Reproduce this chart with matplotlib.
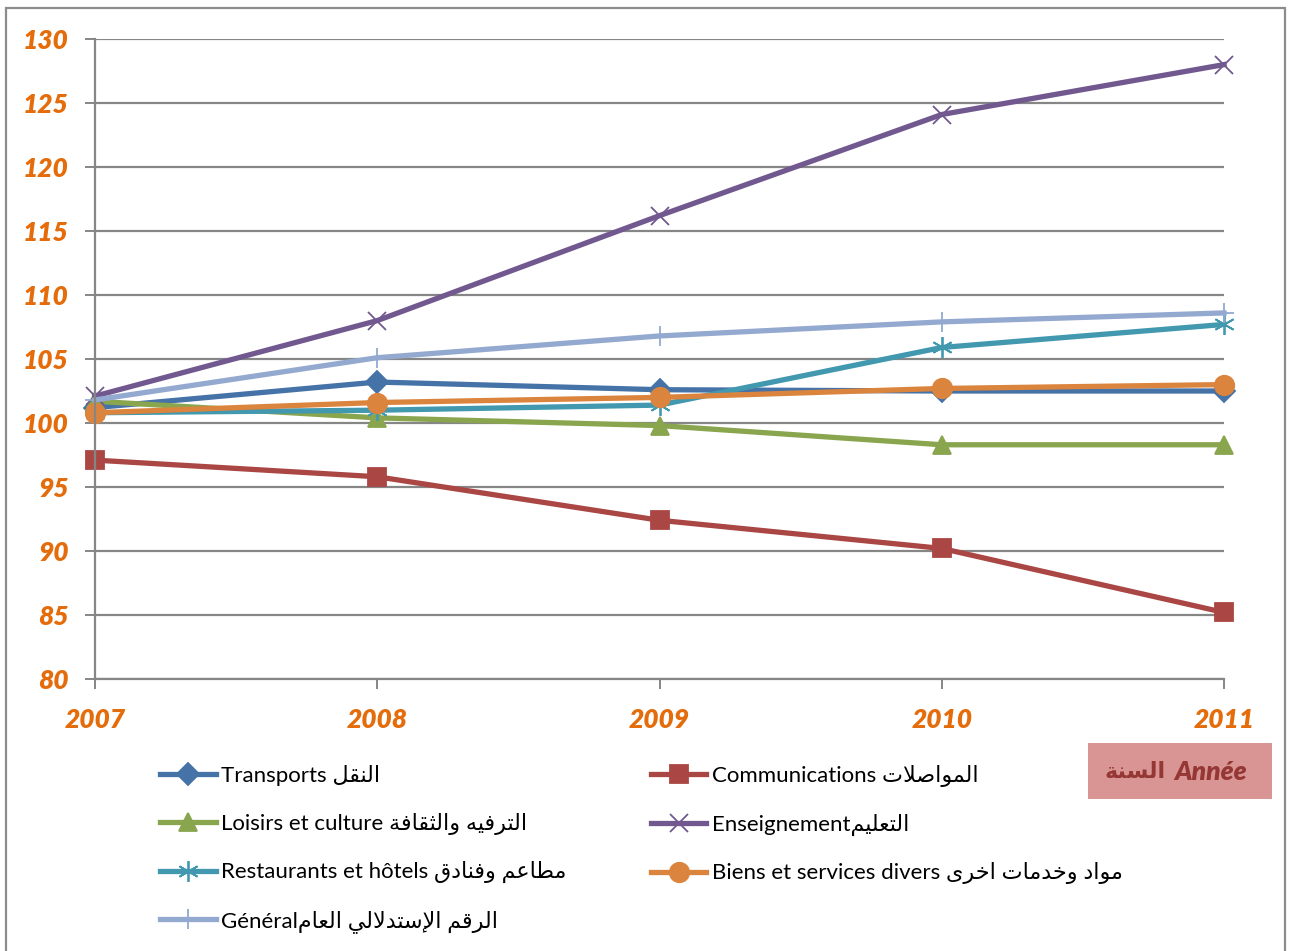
import numpy as np
import matplotlib
matplotlib.use("Agg")
from matplotlib import pyplot as plt
from matplotlib.patches import Rectangle

plt.rcParams['font.family'] = ['Lato', 'DejaVu Sans']

# Data
years = [2007, 2008, 2009, 2010, 2011]
transports = [101.2, 103.2, 102.6, 102.5, 102.5]
communications = [97.1, 95.8, 92.4, 90.2, 85.2]
loisirs = [101.7, 100.4, 99.8, 98.3, 98.3]
enseignement = [102.1, 108.0, 116.2, 124.1, 128.0]
restaurants = [100.8, 101.0, 101.4, 105.9, 107.7]
biens = [100.8, 101.6, 102.0, 102.7, 103.0]
general = [101.8, 105.1, 106.8, 107.9, 108.6]
y_ticks = [80, 85, 90, 95, 100, 105, 110, 115, 120, 125, 130]

# small arabic shaper: matplotlib draws left to right without joining
# forms: isolated, final, initial, medial
FORMS = {
    'ا': (0xFE8D, 0xFE8E, None, None),
    'إ': (0xFE87, 0xFE88, None, None),
    'ل': (0xFEDD, 0xFEDE, 0xFEDF, 0xFEE0),
    'ن': (0xFEE5, 0xFEE6, 0xFEE7, 0xFEE8),
    'ق': (0xFED5, 0xFED6, 0xFED7, 0xFED8),
    'م': (0xFEE1, 0xFEE2, 0xFEE3, 0xFEE4),
    'و': (0xFEED, 0xFEEE, None, None),
    'ص': (0xFEB9, 0xFEBA, 0xFEBB, 0xFEBC),
    'ت': (0xFE95, 0xFE96, 0xFE97, 0xFE98),
    'ر': (0xFEAD, 0xFEAE, None, None),
    'ف': (0xFED1, 0xFED2, 0xFED3, 0xFED4),
    'ي': (0xFEF1, 0xFEF2, 0xFEF3, 0xFEF4),
    'ه': (0xFEE9, 0xFEEA, 0xFEEB, 0xFEEC),
    'ث': (0xFE99, 0xFE9A, 0xFE9B, 0xFE9C),
    'ة': (0xFE93, 0xFE94, None, None),
    'ع': (0xFEC9, 0xFECA, 0xFECB, 0xFECC),
    'ط': (0xFEC1, 0xFEC2, 0xFEC3, 0xFEC4),
    'د': (0xFEA9, 0xFEAA, None, None),
    'خ': (0xFEA5, 0xFEA6, 0xFEA7, 0xFEA8),
    'ى': (0xFEEF, 0xFEF0, None, None),
    'س': (0xFEB1, 0xFEB2, 0xFEB3, 0xFEB4),
}
LAM_ALEF = {'ا': (0xFEFB, 0xFEFC), 'إ': (0xFEF9, 0xFEFA)}


def ar(s):
    out = []
    i = 0
    while i < len(s):
        c = s[i]
        if c not in FORMS:
            out.append(c)
            i += 1
            continue
        prev = s[i-1] if i > 0 else ''
        nxt = s[i+1] if i + 1 < len(s) else ''
        join_prev = prev in FORMS and FORMS[prev][2] is not None
        if c == 'ل' and nxt in LAM_ALEF:
            out.append(chr(LAM_ALEF[nxt][1 if join_prev else 0]))
            i += 2
            continue
        f = FORMS[c]
        join_next = f[2] is not None and nxt in FORMS
        if join_prev and join_next:
            out.append(chr(f[3]))
        elif join_prev:
            out.append(chr(f[1]))
        elif join_next:
            out.append(chr(f[2]))
        else:
            out.append(chr(f[0]))
        i += 1
    return ''.join(out)[::-1]


fig = plt.figure(figsize=(12.9, 9.51), dpi=100)
ax = fig.add_axes([95/1290, 272/951, 1129/1290, 640/951])

orange = '#E46C0A'
grey = '#868686'

series = [
    (transports, 'Transports ' + ar('النقل'), '#4572A7', 'D', 11),
    (communications, 'Communications ' + ar('المواصلات'), '#AA4643', 's', 13),
    (loisirs, 'Loisirs et culture ' + ar('الترفيه والثقافة'), '#89A54E', '^', 13),
    (enseignement, 'Enseignement' + ar('التعليم'), '#71588F', 'x', 13),
    (restaurants, 'Restaurants et hôtels ' + ar('مطاعم وفنادق'), '#4198AF', (6, 2, 0), 15),
    (biens, 'Biens et services divers ' + ar('مواد وخدمات اخرى'), '#DB843D', 'o', 14),
    (general, 'Général' + ar('الرقم الإستدلالي العام'), '#93A9CF', '+', 15),
]

handles = []
for vals, lab, col, mk, ms in series:
    h, = ax.plot(years, vals, color=col, lw=3.8, marker=mk, ms=ms,
                 markeredgecolor=col, markerfacecolor=col, markeredgewidth=1.3,
                 label=lab, clip_on=False)
    handles.append(h)

ax.set_xlim(2007, 2011)
ax.set_ylim(80, 130)
ax.set_xticks(years)
ax.set_yticks(y_ticks)
ax.grid(axis='y', color=grey, lw=1.6)
ax.set_axisbelow(True)
for s in ['top', 'right']:
    ax.spines[s].set_visible(False)
for s in ['left', 'bottom']:
    ax.spines[s].set_color(grey)
    ax.spines[s].set_linewidth(1.6)
ax.tick_params(axis='both', direction='out', length=7, width=1.4, color=grey,
               labelcolor=orange)
ax.tick_params(axis='x', pad=14)
ax.tick_params(axis='y', pad=12)
for t in ax.get_xticklabels() + ax.get_yticklabels():
    t.set_fontsize(19)
    t.set_fontweight('heavy')
    t.set_fontstyle('italic')

# legend, row by row like the original
order = [0, 2, 4, 6, 1, 3, 5]
fig.legend([handles[i] for i in order], [series[i][1] for i in order],
           loc='upper left', bbox_to_anchor=(160/1290, (951-765)/951),
           ncol=2, frameon=False, fontsize=16, borderpad=0, borderaxespad=0,
           handlelength=2.5, handletextpad=0.25, labelspacing=1.2,
           columnspacing=3.8)

# axis title box
fig.patches.append(Rectangle((1088/1290, (951-799)/951), 184/1290, 56/951,
                             transform=fig.transFigure, facecolor='#D99594',
                             edgecolor='none'))
fig.text(1166/1290, (951-772)/951, ar('السنة'), ha='right', va='center',
         fontsize=16, fontweight='bold', family='DejaVu Sans', color='#953735')
fig.text(1174/1290, (951-772)/951, 'Année', ha='left', va='center',
         fontsize=19, fontweight='heavy', fontstyle='italic', color='#953735')

# chart area frame
fig.patches.append(Rectangle((6/1290, -0.02), 1279/1290, (951-8)/951 + 0.02,
                             transform=fig.transFigure, fill=False,
                             edgecolor='#8C8C8C', lw=1.6))

plt.savefig('out.png', dpi=100)
